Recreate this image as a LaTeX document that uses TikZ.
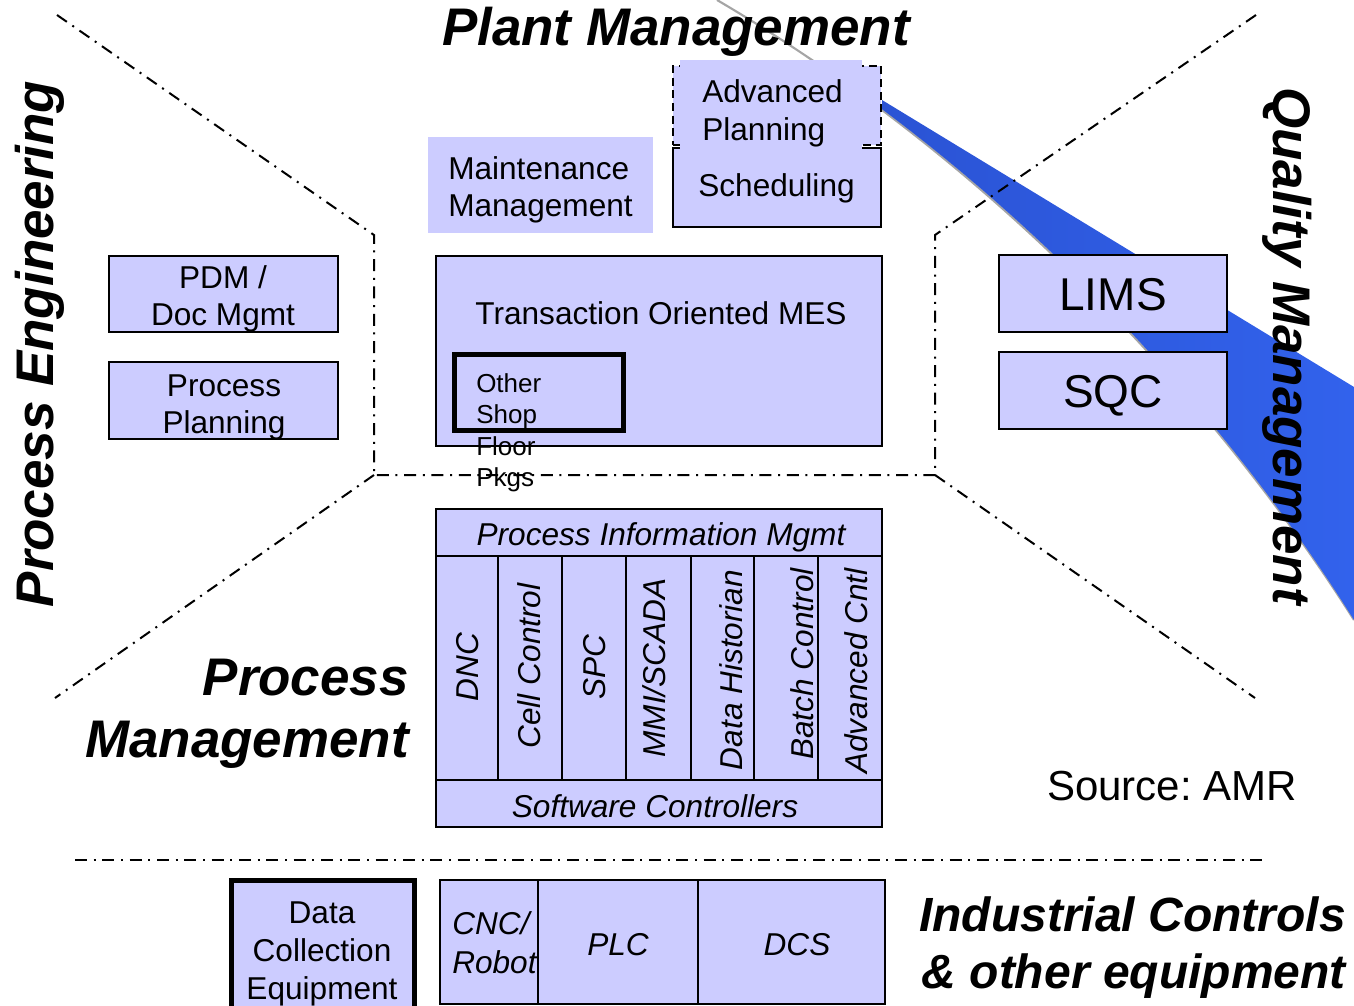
\documentclass[tikz,border=0pt]{standalone}
\usepackage{fontspec}
\setmainfont{Liberation Sans}
\frenchspacing
\usetikzlibrary{fit}
\definecolor{boxfill}{RGB}{204,204,255}
\definecolor{swooshA}{RGB}{40,78,204}
\definecolor{swooshB}{RGB}{50,98,236}
\definecolor{edgegray}{RGB}{165,165,165}
\begin{document}
\begin{tikzpicture}[x=0.75pt,y=-0.75pt,
  box/.style={draw=black, fill=boxfill, line width=1.5pt, inner sep=0pt},
  thickbox/.style={box, line width=3.75pt},
  fillonly/.style={fill=boxfill, inner sep=0pt},
  dashbox/.style={draw=black, fill=boxfill, line width=2pt, dash pattern=on 6pt off 3.5pt, inner sep=0pt},
  txt/.style={inner sep=0pt, font=\fontsize{23.7}{28}\selectfont},
  itxt/.style={inner sep=0pt, font=\fontsize{23.7}{28}\selectfont\itshape},
  smalltxt/.style={inner sep=0pt, font=\fontsize{19.5}{23.6}\selectfont},
  bigtxt/.style={inner sep=0pt, font=\fontsize{34.5}{40}\selectfont},
  srctxt/.style={inner sep=0pt, font=\fontsize{31.5}{36}\selectfont},
  title/.style={inner sep=0pt, font=\fontsize{39.7}{46.5}\selectfont\bfseries\itshape},
  subtitle/.style={inner sep=0pt, font=\fontsize{36}{42.75}\selectfont\bfseries\itshape},
  divider/.style={line width=1.5pt, dash pattern=on 9pt off 5pt on 1.5pt off 5pt}
]
\useasboundingbox (0,0) rectangle (1354,1006);

% ---- blue swoosh ----
\coordinate (swstart) at (717,0);
\coordinate (swtip) at (882,100);
\coordinate (swtop) at (1354,387);
\coordinate (swbot) at (1354,620);
\draw[edgegray, line width=1.6pt, shift={(0.5,2.2)}] (swstart) .. controls (1017,174) and (1234,428) .. (swbot);
\begin{scope}
  \clip (882,-5) rectangle (1370,700);
  \shade[left color=swooshA, right color=swooshB] (swstart) .. controls (1017,174) and (1234,428) .. (swbot) -- (swtop) -- (swtip) -- cycle;
\end{scope}

% ---- dash-dot dividers ----
\coordinate (ul) at (57,15);
\coordinate (ulc) at (374,235);
\coordinate (lc) at (374,475);
\coordinate (rc) at (935,475);
\coordinate (urc) at (935,235);
\coordinate (ur) at (1256,15);
\coordinate (ll) at (55,698);
\coordinate (lr) at (1255,698);
\coordinate (hl) at (75,860);
\coordinate (hr) at (1265,860);
\draw[divider] (ul) -- (ulc) -- (lc) -- (rc) -- (urc) -- (ur);
\draw[divider] (lc) -- (ll);
\draw[divider] (rc) -- (lr);
\draw[divider] (hl) -- (hr);

% ---- titles ----
\node[title, anchor=base] (plant) at (676,46) {Plant Management};
\node[title, rotate=90, anchor=base] (proceng) at (53,344) {Process Engineering};
\node[title, rotate=-90, anchor=base] (quality) at (1273,346) {Quality Management};
\node[title, align=right, anchor=north east] (procmgmt) at (409,659) {Process\\Management};
\node[subtitle, align=right, anchor=north east] (indctl) at (1346,896) {Industrial Controls\\\& other equipment};
\node[srctxt, anchor=base] (source) at (1172,800) {Source: AMR};

% ---- process engineering boxes ----
\node[box, fit={(109,256)(338,332)}] (pdm) {};
\node[txt, align=center, anchor=north] (pdmtxt) at (223,265) {PDM /\\Doc Mgmt};
\node[box, fit={(109,362)(338,439)}] (pplan) {};
\node[txt, align=center, anchor=north] (pplantxt) at (224,374) {Process\\Planning};

% ---- plant management boxes ----
\node[fillonly, fit={(428,137)(653,233)}] (maint) {};
\node[txt, align=left, anchor=north west, font=\fontsize{23.7}{28}\selectfont] (mainttxt) at (448,156) {Maintenance\\Management};

\node[box, fit={(673,148)(881,227)}] (sched) {};
\node[txt, anchor=base] (schedtxt) at (776.5,196) {Scheduling};
\node[dashbox, fit={(673,66)(881,145)}] (apframe) {};
\node[fillonly, fit={(680,60)(862,151)}] (apfill) {};
\node[txt, align=left, anchor=north west, font=\fontsize{23.7}{28.5}\selectfont] (aptxt) at (702,79) {Advanced\\Planning};

\node[box, fit={(436,256)(882,446)}] (mes) {};
\node[txt, anchor=base] (mestxt) at (661,324) {Transaction Oriented MES};
\node[thickbox, fit={(454.5,354.5)(623.5,430.5)}] (other) {};
\node[smalltxt, align=left, anchor=north west] (othertxt) at (476,373) {Other\\Shop\\Floor\\Pkgs};

% ---- quality boxes ----
\node[box, fit={(999,255)(1227,332)}] (lims) {};
\node[bigtxt, anchor=base] (limstxt) at (1113,310) {LIMS};
\node[box, fit={(999,352)(1227,429)}] (sqc) {};
\node[bigtxt, anchor=base] (sqctxt) at (1113,407) {SQC};

% ---- process information table ----
\node[box, fit={(436,509)(881.5,827)}] (pim) {};
\node[box, fit={(436,509)(881.5,556)}] (pimtop) {};
\node[box, fit={(436,780)(881.5,827)}] (pimbot) {};
\node[box, fit={(436,556)(498,780)}] (c1) {};
\node[box, fit={(498,556)(562,780)}] (c2) {};
\node[box, fit={(562,556)(626,780)}] (c3) {};
\node[box, fit={(626,556)(691,780)}] (c4) {};
\node[box, fit={(691,556)(754,780)}] (c5) {};
\node[box, fit={(754,556)(818,780)}] (c6) {};
\node[box, fit={(818,556)(881.5,780)}] (c7) {};
\node[itxt, anchor=base] (pimtxt) at (661,545) {Process Information Mgmt};
\node[itxt, anchor=base] (softtxt) at (655,817) {Software Controllers};
\node[itxt, rotate=90, anchor=base] (dnc) at (478,667) {DNC};
\node[itxt, rotate=90, anchor=base] (cell) at (540,666) {Cell Control};
\node[itxt, rotate=90, anchor=base] (spc) at (605,667) {SPC};
\node[itxt, rotate=90, anchor=base] (mmi) at (665,668) {MMI/SCADA};
\node[itxt, rotate=90, anchor=base] (hist) at (742,670) {Data Historian};
\node[itxt, rotate=90, anchor=base] (batch) at (813,664) {Batch Control};
\node[itxt, rotate=90, anchor=base] (adv) at (867,671) {Advanced Cntl};

% ---- industrial controls ----
\node[thickbox, fit={(231.5,880.5)(414.5,1015)}] (dce) {};
\node[txt, align=center, anchor=north, font=\fontsize{23.7}{28.5}\selectfont] (dcetxt) at (322,901) {Data\\Collection\\Equipment};
\node[box, fit={(440,880)(538,1004)}] (cnc) {};
\node[box, fit={(538,880)(698,1004)}] (plc) {};
\node[box, fit={(698,880)(885,1004)}] (dcs) {};
\node[itxt, align=left, anchor=north west, font=\fontsize{23.7}{29.25}\selectfont\itshape] (cnctxt) at (452,911) {CNC/\\Robot};
\node[itxt, anchor=base] (plctxt) at (618,955) {PLC};
\node[itxt, anchor=base] (dcstxt) at (797,955) {DCS};
\end{tikzpicture}
\end{document}
